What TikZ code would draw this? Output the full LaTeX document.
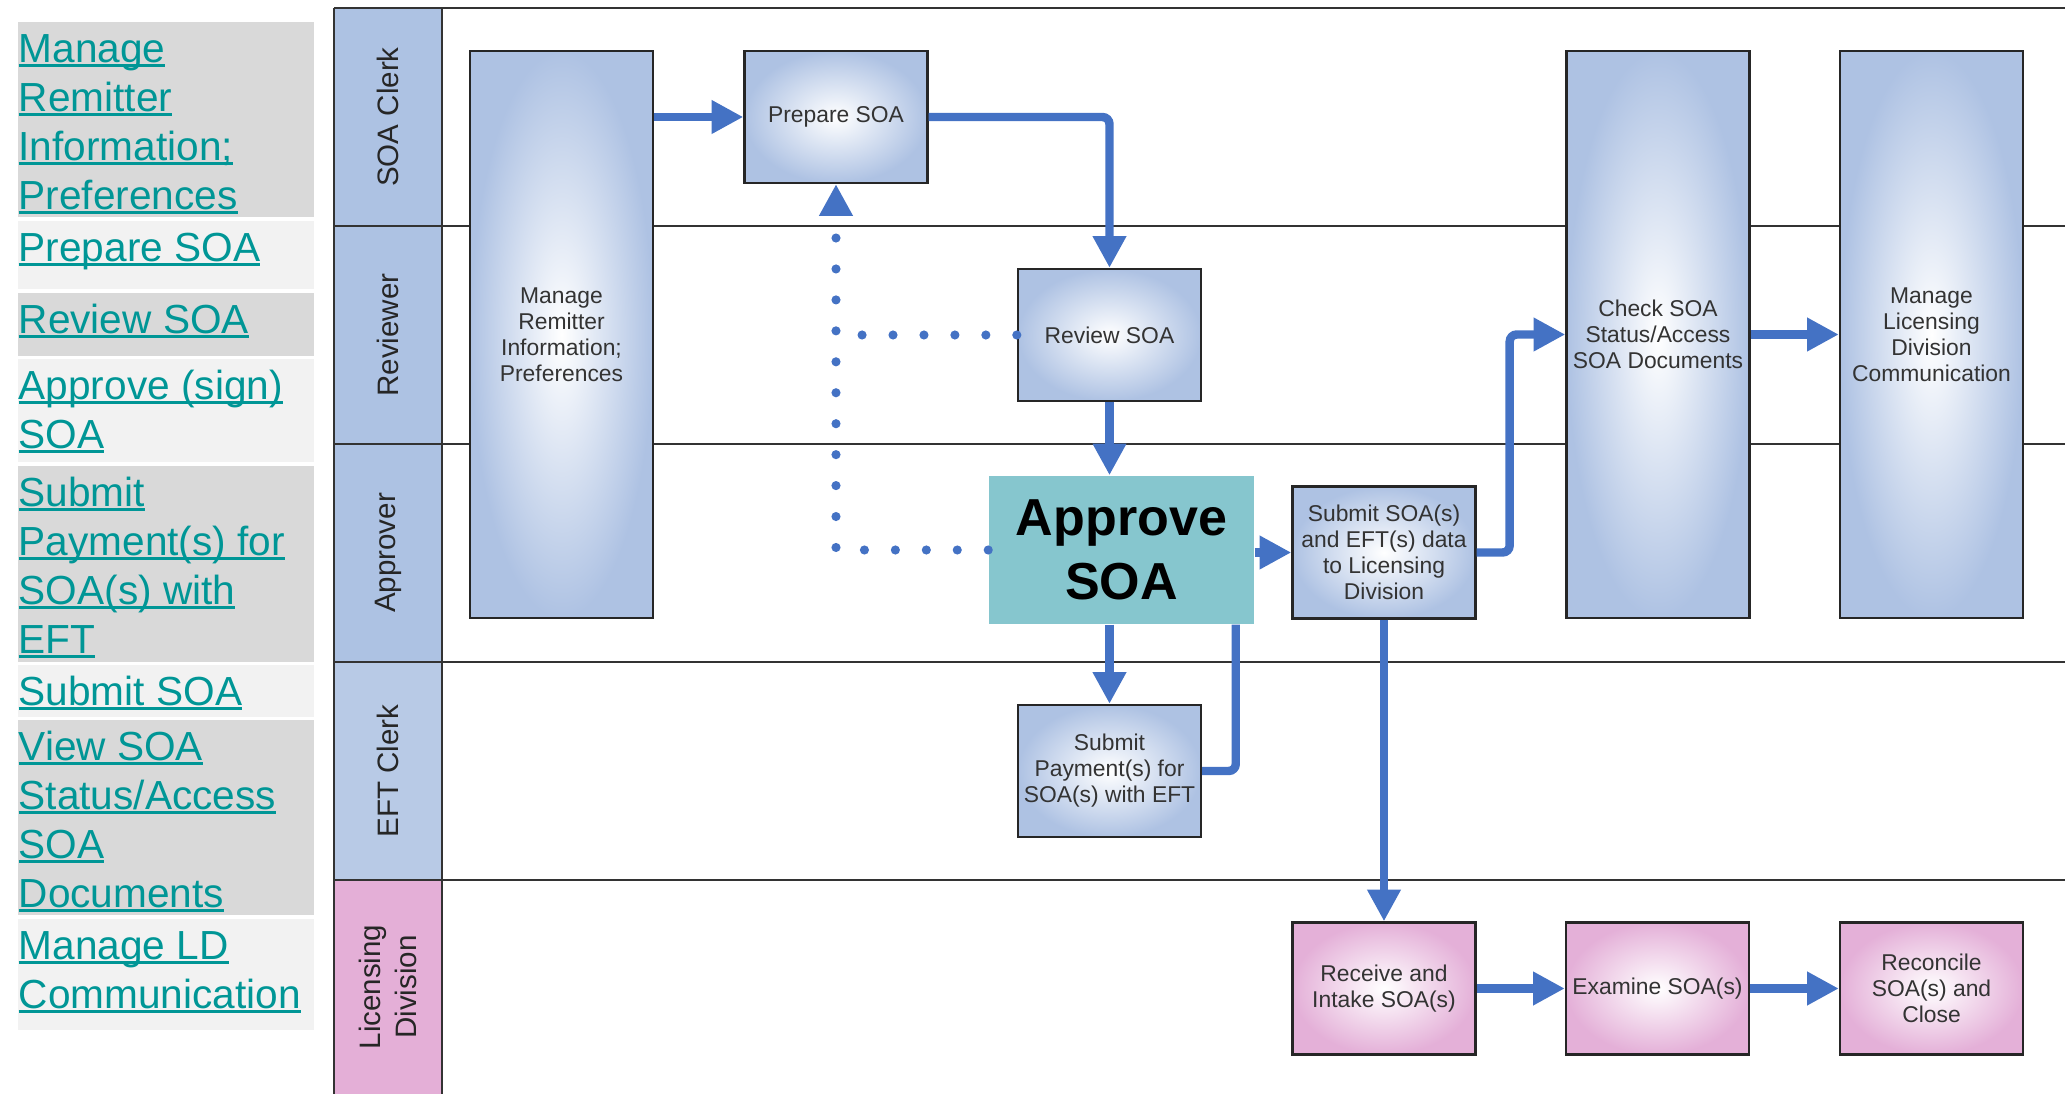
\documentclass[tikz,border=0pt]{standalone}
\usepackage{fontspec}
\setmainfont{Liberation Sans}
\usetikzlibrary{arrows.meta}
\definecolor{flowblue}{RGB}{68,114,196}
\definecolor{laneblue}{RGB}{173,194,227}
\definecolor{laneblue2}{RGB}{184,202,230}
\definecolor{lanepink}{RGB}{228,175,215}
\definecolor{procblue}{RGB}{174,194,227}
\definecolor{procpink}{RGB}{228,176,216}
\definecolor{approvecol}{RGB}{134,198,206}
\definecolor{linkteal}{RGB}{0,150,150}
\definecolor{cellgray}{RGB}{217,217,217}
\definecolor{celllight}{RGB}{242,242,242}
\newsavebox{\lnkbox}
\newcommand{\lnk}[1]{\sbox{\lnkbox}{#1}\rlap{\rule[-1.2pt]{\wd\lnkbox}{0.85pt}}\usebox{\lnkbox}}
\tikzset{
  proc/.style={rectangle, draw=black!85, line width=0.65pt, inner color=white,
    outer color=procblue, minimum width=1.83cm, minimum height=1.32cm,
    inner sep=1pt, align=center, text=black!80,
    font=\fontsize{6.5pt}{7.4pt}\selectfont},
  tall/.style={proc, minimum height=5.67cm},
  ldproc/.style={proc, outer color=procpink},
  approve/.style={rectangle, fill=approvecol, minimum width=2.65cm,
    minimum height=1.48cm, align=center,
    font=\fontsize{14.8pt}{18pt}\selectfont\bfseries},
  lanelabel/.style={rotate=90, align=center, text=black!85,
    font=\fontsize{8.4pt}{10.2pt}\selectfont},
  lane/.style={draw=black!80, line width=0.6pt},
  link/.style={anchor=north west, inner sep=0pt, align=left, text=linkteal,
    font=\fontsize{11.55pt}{13.9pt}\selectfont},
  flow/.style={flowblue, line width=2.4pt, rounded corners=2pt,
    -{Triangle[length=9pt,width=9pt]}},
  back/.style={flowblue, line width=2.6pt, line cap=round,
    dash pattern=on 0pt off 8.8pt, -{Triangle[length=9pt,width=9pt]}}
}
\begin{document}
\begin{tikzpicture}[x=0.01cm,y=-0.01cm]
  \useasboundingbox (0,0) rectangle (2065,1094);
  % links
  \fill[cellgray] (18,22) rectangle (314,217);
  \fill[celllight] (18,221) rectangle (314,289);
  \fill[cellgray] (18,293) rectangle (314,356);
  \fill[celllight] (18,359) rectangle (314,462);
  \fill[cellgray] (18,466) rectangle (314,662);
  \fill[celllight] (18,665) rectangle (314,717);
  \fill[cellgray] (18,720) rectangle (314,915);
  \fill[celllight] (18,919) rectangle (314,1030);
  \node[link] (t0) at (18,28) {\strut\lnk{Manage}\\\lnk{Remitter}\\\lnk{Information;}\\\lnk{Preferences}};
  \node[link] (t1) at (18,227) {\strut\lnk{Prepare SOA}};
  \node[link] (t2) at (18,299) {\strut\lnk{Review SOA}};
  \node[link] (t3) at (18,365) {\strut\lnk{Approve (sign)}\\\lnk{SOA}};
  \node[link] (t4) at (18,472) {\strut\lnk{Submit}\\\lnk{Payment(s) for}\\\lnk{SOA(s) with}\\\lnk{EFT}};
  \node[link] (t5) at (18,671) {\strut\lnk{Submit SOA}};
  \node[link] (t6) at (18,726) {\strut\lnk{View SOA}\\\lnk{Status/Access}\\\lnk{SOA}\\\lnk{Documents}};
  \node[link] (t7) at (18,925) {\strut\lnk{Manage LD}\\\lnk{Communication}};
  % lanes
  \fill[laneblue] (334,8) rectangle (442,662);
  \fill[laneblue2] (334,662) rectangle (442,880);
  \fill[lanepink] (334,880) rectangle (442,1094);
  \draw[lane] (334,8) -- (2065,8);
  \draw[lane] (334,226) -- (2065,226);
  \draw[lane] (334,444) -- (2065,444);
  \draw[lane] (334,662) -- (2065,662);
  \draw[lane] (334,880) -- (2065,880);
  \draw[lane] (334,8) -- (334,1094);
  \draw[lane] (442,8) -- (442,1094);
  \node[lanelabel] (l0) at (388,117) {SOA Clerk};
  \node[lanelabel] (l1) at (388,335) {Reviewer};
  \node[lanelabel] (l2) at (388,553) {Approver};
  \node[lanelabel] (l3) at (388,771) {EFT Clerk};
  \node[lanelabel] (l4) at (388,987) {Licensing\\Division};
  % steps
  \node[tall] (0) at (561.5,334.5) {Manage\\Remitter\\Information;\\Preferences};
  \node[proc] (1) at (836,117) {Prepare SOA};
  \node[proc] (2) at (1109.5,335) {Review SOA};
  \node[approve] (3) at (1121.5,550) {Approve\\SOA};
  \node[proc] (4) at (1109.5,771) {Submit\\Payment(s) for\\SOA(s) with EFT};
  \node[proc] (5) at (1384,552.5) {Submit SOA(s)\\and EFT(s) data\\to Licensing\\Division};
  \node[tall] (6) at (1658,334.5) {Check SOA\\Status/Access\\SOA Documents};
  \node[tall] (7) at (1931.5,334.5) {Manage\\Licensing\\Division\\Communication};
  \node[ldproc] (8) at (1384,988.5) {Receive and\\Intake SOA(s)};
  \node[ldproc] (9) at (1657.5,988.5) {Examine SOA(s)};
  \node[ldproc] (10) at (1931.5,988.5) {Reconcile\\SOA(s) and\\Close};
  \begin{scope}[back]
    \draw (3.west) -| (1.south);
    \draw[-] (2.west) -- (2.west -| 1.south);
  \end{scope}
  \begin{scope}[flow]
    \draw (0.east |- 1.west) -- (1.west);
    \draw (1.east) -| (2.north);
    \draw (2.south) -- (2.south |- 3.north);
    \draw (3.south -| 4.north) -- (4.north);
    \draw[-] (4.east) -| ([xshift=-0.19cm]3.south east);
    \draw (3.east |- 5.west) -- (5.west);
    \draw (5.east) -- ++(33,0) |- (6.west);
    \draw (6.east) -- (7.west);
    \draw (5.south) -- (8.north);
    \draw (8.east) -- (9.west);
    \draw (9.east) -- (10.west);
  \end{scope}
\end{tikzpicture}
\end{document}
